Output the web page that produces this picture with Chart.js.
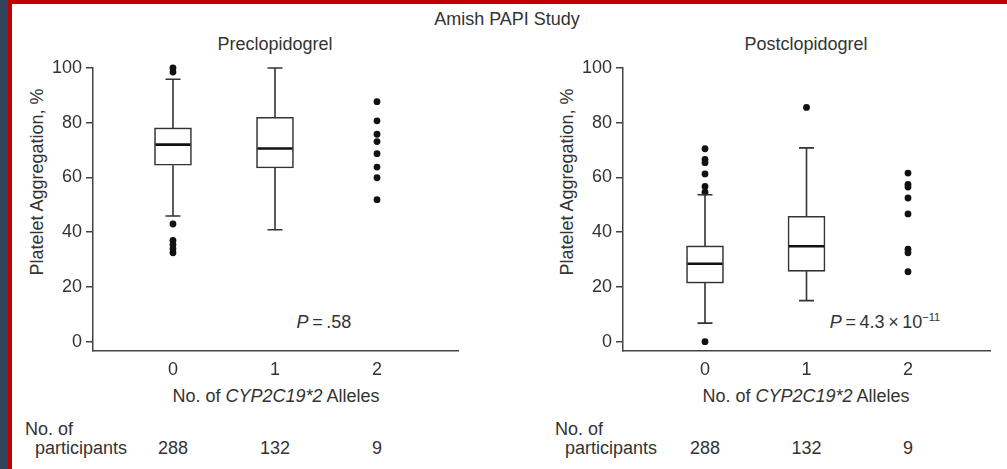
<!DOCTYPE html>
<html>
<head>
<meta charset="utf-8">
<title>Amish PAPI Study</title>
<script src="https://cdn.jsdelivr.net/npm/chart.js@4.4.0/dist/chart.umd.min.js"></script>
<style>
  html, body { margin: 0; padding: 0; }
  body {
    width: 1007px; height: 469px; position: relative; overflow: hidden; background: #fff;
    font-family: "Liberation Sans", Arial, sans-serif; color: #333;
  }
  .edge-navy { position: absolute; left: 0; top: 0; width: 8px; height: 469px; background: #33435e; }
  .edge-red-l { position: absolute; left: 8px; top: 0; width: 4px; height: 469px; background: #c00000; }
  .edge-red-t { position: absolute; left: 8px; top: 0; right: 0; height: 4px; background: #c00000; }
  .txt { position: absolute; font-size: 18px; white-space: nowrap; line-height: 1; }
  .c { transform: translate(-50%, -50%); }
  .l { transform: translateY(-50%); }
  .ylab { transform: translate(-50%, -50%) rotate(-90deg); }
  sup { font-size: 11px; vertical-align: 7px; line-height: 0; }
  canvas { position: absolute; }
</style>
</head>
<body>
<div class="edge-navy"></div>
<div class="edge-red-l"></div>
<div class="edge-red-t"></div>

<div class="txt c" style="left:507px; top:19px;">Amish PAPI Study</div>
<div class="txt c" style="left:275px; top:44px;">Preclopidogrel</div>
<div class="txt c" style="left:806px; top:44px;">Postclopidogrel</div>

<div class="txt ylab" style="left:37px; top:182px;">Platelet Aggregation, %</div>
<div class="txt ylab" style="left:567px; top:182px;">Platelet Aggregation, %</div>

<div class="txt c" style="left:276px; top:396px;">No. of <i>CYP2C19*2</i> Alleles</div>
<div class="txt c" style="left:806px; top:396px;">No. of <i>CYP2C19*2</i> Alleles</div>

<div class="txt c" style="left:324px; top:322px;"><i>P</i>&#8201;=&#8201;.58</div>
<div class="txt c" style="left:885px; top:322px;"><i>P</i>&#8201;=&#8201;4.3&#8201;×&#8201;10<sup>−11</sup></div>

<div class="txt l" style="left:25px; top:429px;">No. of</div>
<div class="txt l" style="left:35px; top:448px;">participants</div>
<div class="txt l" style="left:555px; top:429px;">No. of</div>
<div class="txt l" style="left:565px; top:448px;">participants</div>

<canvas id="pre" width="470" height="340" style="left:12px; top:50px;"></canvas>
<canvas id="post" width="465" height="340" style="left:542px; top:50px;"></canvas>

<script>
const alleleGroups = [0, 1, 2];
const participants = [288, 132, 9];
const yTicks = [0, 20, 40, 60, 80, 100];

// Preclopidogrel: boxes for 0 and 1 alleles, every point for 2 alleles
const preQ1 = [64.5, 63.5];
const preMedian = [72.0, 70.6];
const preQ3 = [78.1, 82.0];
const preWhiskerLow = [45.9, 40.9];
const preWhiskerHigh = [95.9, 100];
const preOutliers0 = [100, 98.5, 43, 37, 35.5, 34, 32.5];
const preOutliers1 = [];
const prePoints2 = [87.7, 80.7, 75.8, 73.1, 68.7, 63.8, 59.9, 51.9];

// Postclopidogrel
const postQ1 = [21.4, 25.7];
const postMedian = [28.5, 34.9];
const postQ3 = [35.0, 45.8];
const postWhiskerLow = [6.8, 15];
const postWhiskerHigh = [53.7, 70.8];
const postOutliers0 = [70.5, 66.6, 65.4, 61.3, 56.7, 54.6, 0];
const postOutliers1 = [85.6];
const postPoints2 = [61.6, 57.5, 56.5, 52.5, 46.7, 33.8, 32.5, 25.6];

const FONT = { family: '"Liberation Sans", Arial, sans-serif', size: 18 };
const INK = '#333';
const AXIS = '#444';

// whiskers, caps and median lines on top of the floating bars
const boxWhiskers = {
  id: 'boxWhiskers',
  afterDatasetsDraw(chart, args, opts) {
    const ctx = chart.ctx;
    const y = chart.scales.y;
    const bars = chart.getDatasetMeta(0).data;
    ctx.save();
    bars.forEach((bar, i) => {
      const x = bar.x;
      const half = bar.width / 2;
      const yLo = y.getPixelForValue(opts.low[i]);
      const yHi = y.getPixelForValue(opts.high[i]);
      const yQ1 = y.getPixelForValue(opts.q1[i]);
      const yQ3 = y.getPixelForValue(opts.q3[i]);
      ctx.strokeStyle = INK;
      ctx.lineWidth = 1.6;
      ctx.beginPath();
      ctx.moveTo(x, yQ3); ctx.lineTo(x, yHi);
      ctx.moveTo(x, yQ1); ctx.lineTo(x, yLo);
      ctx.moveTo(x - 7.5, yHi); ctx.lineTo(x + 7.5, yHi);
      ctx.moveTo(x - 7.5, yLo); ctx.lineTo(x + 7.5, yLo);
      ctx.stroke();
      const yMed = y.getPixelForValue(opts.median[i]);
      ctx.lineWidth = 2.6;
      ctx.strokeStyle = '#111';
      ctx.beginPath();
      ctx.moveTo(x - half + 1, yMed); ctx.lineTo(x + half - 1, yMed);
      ctx.stroke();
    });
    ctx.restore();
  }
};

function makePanel(id, stats, xMin, xMax, padRight) {
  const boxes = stats.q1.map((q, i) => ({ x: alleleGroups[i], y: [q, stats.q3[i]] }));
  const dots = [];
  stats.points.forEach((vals, g) => vals.forEach(v => dots.push({ x: alleleGroups[g], y: v })));

  return new Chart(document.getElementById(id), {
    type: 'scatter',
    data: {
      datasets: [
        {
          type: 'bar',
          data: boxes,
          barThickness: 37,
          backgroundColor: '#fff',
          borderColor: INK,
          borderWidth: 1.6,
          borderSkipped: false
        },
        {
          type: 'scatter',
          data: dots,
          clip: false,
          pointRadius: 3.4,
          pointBackgroundColor: '#111',
          pointBorderWidth: 0
        }
      ]
    },
    options: {
      responsive: false,
      animation: false,
      layout: { padding: { top: 18, right: padRight, bottom: 0, left: 0 } },
      plugins: {
        legend: { display: false },
        tooltip: { enabled: false },
        boxWhiskers: {
          q1: stats.q1, q3: stats.q3, median: stats.median,
          low: stats.low, high: stats.high
        }
      },
      scales: {
        x: {
          type: 'linear',
          offset: false,
          min: xMin,
          max: xMax,
          afterBuildTicks: s => { s.ticks = alleleGroups.map(v => ({ value: v })); },
          afterFit: s => { s.height = 39; },
          grid: { display: false, drawTicks: false, offset: false },
          border: { display: true, color: AXIS, width: 1.5 },
          ticks: { color: INK, font: FONT, padding: 8 }
        },
        y: {
          type: 'linear',
          min: -3.4,
          max: 100,
          afterBuildTicks: s => { s.ticks = yTicks.map(v => ({ value: v })); },
          afterFit: s => { s.width = 81; },
          grid: { drawOnChartArea: false, drawTicks: true, tickLength: 7, color: AXIS, lineWidth: 1.5 },
          border: { display: true, color: AXIS, width: 1.5 },
          ticks: { color: INK, font: FONT, padding: 4 }
        }
      }
    },
    plugins: [boxWhiskers]
  });
}

const preChart = makePanel('pre', {
  q1: preQ1, q3: preQ3, median: preMedian, low: preWhiskerLow, high: preWhiskerHigh,
  points: [preOutliers0, preOutliers1, prePoints2]
}, -0.784, 2.794, 24);

const postChart = makePanel('post', {
  q1: postQ1, q3: postQ3, median: postMedian, low: postWhiskerLow, high: postWhiskerHigh,
  points: [postOutliers0, postOutliers1, postPoints2]
}, -0.808, 2.808, 17);

// participant counts sit under each allele group
[[preChart, 12], [postChart, 542]].forEach(([chart, offset]) => {
  alleleGroups.forEach((g, i) => {
    const d = document.createElement('div');
    d.className = 'txt c';
    d.style.left = (offset + chart.scales.x.getPixelForValue(g)) + 'px';
    d.style.top = '448px';
    d.textContent = participants[i];
    document.body.appendChild(d);
  });
});
</script>
</body>
</html>
